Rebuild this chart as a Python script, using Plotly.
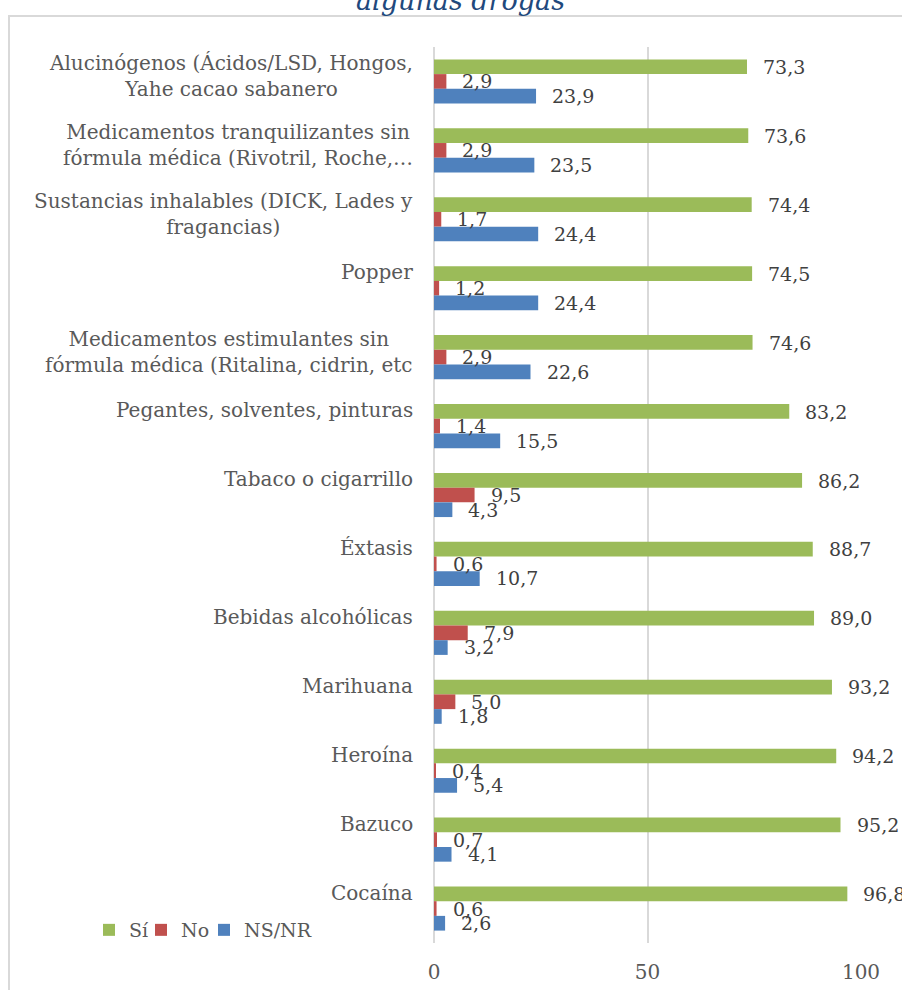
import plotly.graph_objects as go

categories = [
    "Alucinógenos (Ácidos/LSD, Hongos,<br>Yahe cacao sabanero",
    "Medicamentos tranquilizantes sin<br>fórmula médica (Rivotril, Roche,…",
    "Sustancias inhalables (DICK, Lades y<br>fragancias)",
    "Popper",
    "Medicamentos estimulantes sin<br>fórmula médica (Ritalina, cidrin, etc",
    "Pegantes, solventes, pinturas",
    "Tabaco o cigarrillo",
    "Éxtasis",
    "Bebidas alcohólicas",
    "Marihuana",
    "Heroína",
    "Bazuco",
    "Cocaína",
]
si = [73.3, 73.6, 74.4, 74.5, 74.6, 83.2, 86.2, 88.7, 89.0, 93.2, 94.2, 95.2, 96.8]
no = [2.9, 2.9, 1.7, 1.2, 2.9, 1.4, 9.5, 0.6, 7.9, 5.0, 0.4, 0.7, 0.6]
nsnr = [23.9, 23.5, 24.4, 24.4, 22.6, 15.5, 4.3, 10.7, 3.2, 1.8, 5.4, 4.1, 2.6]
series_names = ["Sí", "No", "NS/NR"]
series_values = [si, no, nsnr]
series_colors = ["#9BBB59", "#C0504D", "#4F81BD"]
x_ticks = [0, 50, 100]
title_text = "algunas drogas"

FONT = "DejaVu Serif"
LABEL_COLOR = "#595959"
VALUE_COLOR = "#404040"

W, H = 902, 990
ML, MR, MT, MB = 434, 41, 47, 47
pw = W - ML - MR
ph = H - MT - MB

legend_entry_widths = [7, 18, 90]

fig = go.Figure()
for name, vals, col, lw in zip(series_names, series_values, series_colors, legend_entry_widths):
    fig.add_trace(go.Bar(
        name=name, y=categories, x=vals, orientation="h",
        marker=dict(color=col, line=dict(width=0)),
        legendwidth=lw,
    ))

annotations = []
# value labels
shifts = [14.5, 0, -14.5]
for vals, ys in zip(series_values, shifts):
    for c, v in zip(categories, vals):
        annotations.append(dict(
            x=v, y=c, xref="x", yref="y", text=f"{v:.1f}".replace(".", ","),
            showarrow=False, xanchor="left", yanchor="middle",
            xshift=14, yshift=ys,
            font=dict(family=FONT, size=19, color=VALUE_COLOR),
        ))
# category labels
for c in categories:
    two = "<br>" in c
    annotations.append(dict(
        x=0, y=c, xref="paper", yref="y", text=c, showarrow=False,
        xanchor="right", yanchor="middle", align="center",
        xshift=-19, yshift=5 if two else 16,
        font=dict(family=FONT, size=20, color=LABEL_COLOR),
    ))
# title (cut at top)
annotations.append(dict(
    x=(460 - ML) / pw, y=1 + (MT - 1) / ph, xref="paper", yref="paper",
    text=f"<i>{title_text}</i>", showarrow=False, xanchor="center", yanchor="middle",
    font=dict(family=FONT, size=27, color="#1F497D"),
))

fig.update_layout(
    width=W, height=H,
    margin=dict(l=ML, r=MR, t=MT, b=MB, autoexpand=False),
    paper_bgcolor="white", plot_bgcolor="white",
    barmode="group", bargap=0.36, bargroupgap=0,
    showlegend=True,
    legend=dict(
        orientation="h", x=(89 - ML) / pw, y=(943 - 930) / ph,
        xanchor="left", yanchor="middle",
        font=dict(family=FONT, size=19, color=LABEL_COLOR),
        bgcolor="rgba(0,0,0,0)", traceorder="normal",
    ),
    annotations=annotations,
    shapes=[dict(
        type="rect", xref="paper", yref="paper",
        x0=(9 - ML) / pw, x1=(930 - ML) / pw,
        y0=-(1010 - (H - MB)) / ph, y1=1 + (MT - 16) / ph,
        line=dict(color="#D9D9D9", width=2), fillcolor="rgba(0,0,0,0)", layer="below",
    )],
)
fig.update_xaxes(
    range=[0, 100], tickvals=x_ticks, showgrid=True, gridcolor="#D9D9D9", gridwidth=2,
    zeroline=True, zerolinecolor="#D9D9D9", zerolinewidth=2, showline=False,
    ticks="", ticklabelstandoff=15,
    tickfont=dict(family=FONT, size=20, color=LABEL_COLOR),
)
fig.update_yaxes(
    autorange="reversed", showticklabels=False, showgrid=False, showline=False, ticks="",
)
fig.write_html(
    "out.html",
    config={"displayModeBar": False},
    post_script="document.body.style.margin='0';document.body.style.overflow='hidden';",
)
